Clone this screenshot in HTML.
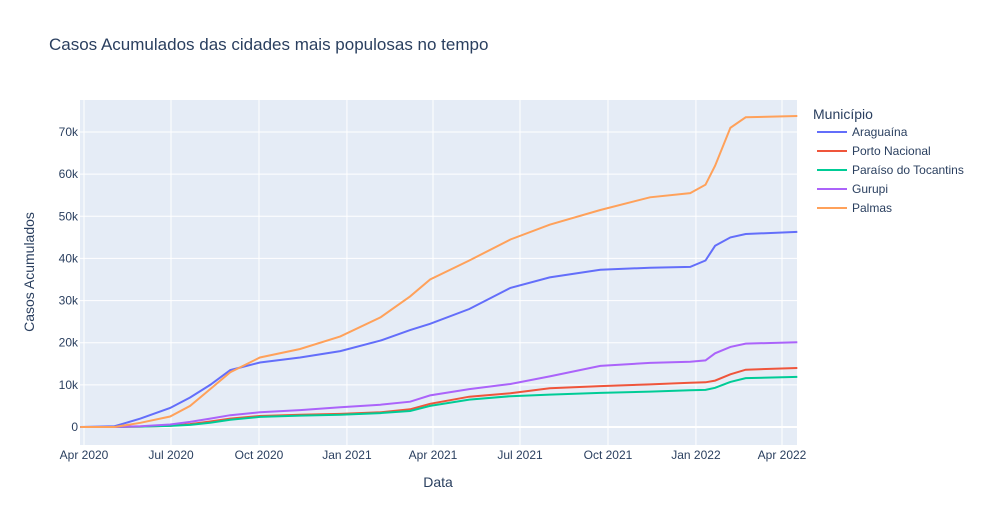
<!DOCTYPE html>
<html><head><meta charset="utf-8"><style>
body{margin:0;background:#fff;font-family:"Liberation Sans",Arial,sans-serif;}
svg text{font-family:"Liberation Sans",Arial,sans-serif;}
</style></head><body>
<svg id="chart" width="981" height="525" xmlns="http://www.w3.org/2000/svg">
<rect width="981" height="525" fill="#fff"/>
<text x="49" y="50" font-size="17" fill="#2a3f5f">Casos Acumulados das cidades mais populosas no tempo</text>
<rect x="80" y="100" width="717" height="345" fill="#e5ecf6"/>
<g id="grid"></g><g id="series"></g><g id="axes"></g>
<text x="438" y="487" font-size="14" fill="#2a3f5f" text-anchor="middle">Data</text>
<text transform="translate(34,272) rotate(-90)" font-size="14" fill="#2a3f5f" text-anchor="middle">Casos Acumulados</text>
<g id="legend"></g>
</svg>
<script>
const dates=["2020-03-28","2020-05-03","2020-05-30","2020-06-30","2020-07-21","2020-08-11","2020-09-01","2020-10-02","2020-11-13","2020-12-25","2021-02-05","2021-03-08","2021-03-29","2021-05-09","2021-06-21","2021-08-01","2021-09-23","2021-11-14","2021-12-26","2022-01-11","2022-01-21","2022-02-06","2022-02-22","2022-04-17"];
const seriesNames=["Araguaína","Porto Nacional","Paraíso do Tocantins","Gurupi","Palmas"];
const araguaina=[0,200,2000,4500,7000,10000,13500,15300,16500,18000,20500,23000,24500,28000,33000,35500,37300,37800,38000,39500,43000,45000,45800,46300];
const portoNacional=[0,0,100,300,700,1300,2000,2600,2900,3100,3500,4200,5500,7200,8000,9200,9700,10100,10500,10600,11000,12500,13600,14000];
const paraiso=[0,0,100,250,500,1000,1700,2400,2700,2900,3300,3800,5000,6500,7300,7700,8100,8400,8700,8800,9300,10700,11600,11900];
const gurupi=[0,0,200,600,1200,2000,2800,3500,4000,4700,5300,6000,7500,9000,10200,12000,14500,15200,15500,15800,17500,19000,19800,20100];
const palmas=[0,0,1000,2500,5000,9000,13000,16500,18500,21500,26000,31000,35000,39500,44500,48000,51500,54500,55500,57500,62000,71000,73500,73800];
const colors=["#636efa","#EF553B","#00cc96","#ab63fa","#FFA15A"];
const yTicks=[0,10000,20000,30000,40000,50000,60000,70000];
const yTickLabels=["0","10k","20k","30k","40k","50k","60k","70k"];
const xTicks=["2020-04-01","2020-07-01","2020-10-01","2021-01-01","2021-04-01","2021-07-01","2021-10-01","2022-01-01","2022-04-01"];
const xTickLabels=["Apr 2020","Jul 2020","Oct 2020","Jan 2021","Apr 2021","Jul 2021","Oct 2021","Jan 2022","Apr 2022"];
const NS="http://www.w3.org/2000/svg";
const d0=Date.parse("2020-04-01"),d1=Date.parse("2022-04-01");
function xs(d){return 84+(Date.parse(d)-d0)/(d1-d0)*(782-84);}
function ys(v){return 427-v/70000*(427-132);}
function mk(tag,attrs,parent){const e=document.createElementNS(NS,tag);for(const k in attrs)e.setAttribute(k,attrs[k]);parent.appendChild(e);return e;}
const grid=document.getElementById('grid'),axes=document.getElementById('axes');
yTicks.forEach((v,i)=>{
  const l=mk('line',{x1:80,x2:797,y1:ys(v),y2:ys(v),stroke:'#fff','stroke-width':v===0?2:1},grid);
  
  
  const t=mk('text',{x:78,y:ys(v)+4,'font-size':12,fill:'#2a3f5f','text-anchor':'end'},axes);
  t.textContent=yTickLabels[i];
  
  
});
xTicks.forEach((d,i)=>{
  const l=mk('line',{x1:xs(d),x2:xs(d),y1:100,y2:445,stroke:'#fff','stroke-width':1},grid);
  
  
  const t=mk('text',{x:xs(d),y:459,'font-size':12,fill:'#2a3f5f','text-anchor':'middle'},axes);
  t.textContent=xTickLabels[i];
  
  
});
const all=[araguaina,portoNacional,paraiso,gurupi,palmas];
const sg=document.getElementById('series'),lg=document.getElementById('legend');
const lt=mk('text',{x:813,y:119,'font-size':14,fill:'#2a3f5f'},lg);
lt.textContent="Município";


all.forEach((vals,i)=>{
  const p=mk('path',{d:vals.map((v,j)=>(j?'L':'M')+xs(dates[j]).toFixed(1)+','+ys(v).toFixed(1)).join(''),fill:'none',stroke:colors[i],'stroke-width':2},sg);
  
  
  const g=mk('g',{},lg);
  
  
  const y=132+i*19;
  mk('line',{x1:817,x2:847,y1:y,y2:y,stroke:colors[i],'stroke-width':2},g);
  const t=mk('text',{x:852,y:y+4,'font-size':12,fill:'#2a3f5f'},g);
  t.textContent=seriesNames[i];
});
</script>
</body></html>
